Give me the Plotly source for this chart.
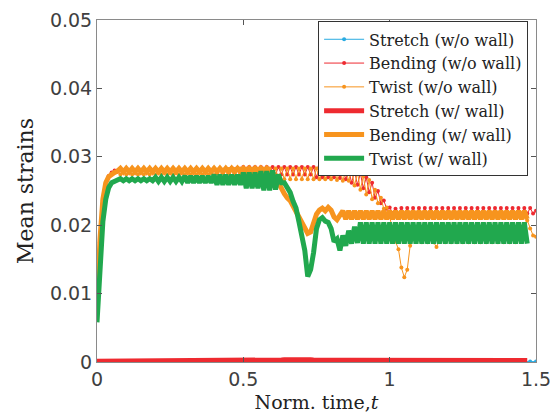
import plotly.graph_objects as go

# ---------------- data ----------------
T = [0.00, 0.01, 0.02, 0.03, 0.04, 0.05, 0.06, 0.07, 0.08, 0.09,
     0.10, 0.11, 0.12, 0.13, 0.14, 0.15, 0.16, 0.17, 0.18, 0.19,
     0.20, 0.21, 0.22, 0.23, 0.24, 0.25, 0.26, 0.27, 0.28, 0.29,
     0.30, 0.31, 0.32, 0.33, 0.34, 0.35, 0.36, 0.37, 0.38, 0.39,
     0.40, 0.41, 0.42, 0.43, 0.44, 0.45, 0.46, 0.47, 0.48, 0.49,
     0.50, 0.51, 0.52, 0.53, 0.54, 0.55, 0.56, 0.57, 0.58, 0.59,
     0.60, 0.61, 0.62, 0.63, 0.64, 0.65, 0.66, 0.67, 0.68, 0.69,
     0.70, 0.71, 0.72, 0.73, 0.74, 0.75, 0.76, 0.77, 0.78, 0.79,
     0.80, 0.81, 0.82, 0.83, 0.84, 0.85, 0.86, 0.87, 0.88, 0.89,
     0.90, 0.91, 0.92, 0.93, 0.94, 0.95, 0.96, 0.97, 0.98, 0.99,
     1.00, 1.01, 1.02, 1.03, 1.04, 1.05, 1.06, 1.07, 1.08, 1.09,
     1.10, 1.11, 1.12, 1.13, 1.14, 1.15, 1.16, 1.17, 1.18, 1.19,
     1.20, 1.21, 1.22, 1.23, 1.24, 1.25, 1.26, 1.27, 1.28, 1.29,
     1.30, 1.31, 1.32, 1.33, 1.34, 1.35, 1.36, 1.37, 1.38, 1.39,
     1.40, 1.41, 1.42, 1.43, 1.44, 1.45, 1.46, 1.47, 1.48, 1.49,
     1.50]

# w/ wall runs stop a little earlier
T_WALL = T[:148]

# Stretch (w/o wall) - sparse samples, essentially zero
T_STRETCH_NO = [0.00, 0.10, 0.20, 0.30, 0.40, 0.50, 0.60, 0.70, 0.80, 0.90,
                1.00, 1.10, 1.20, 1.30, 1.40, 1.45, 1.48, 1.50]
STRETCH_NO = [0.00005, 0.00005, 0.00005, 0.00005, 0.00005, 0.00006, 0.00008, 0.00010,
              0.00008, 0.00007, 0.00007, 0.00007, 0.00007, 0.00007, 0.00006, 0.00006,
              0.00006, 0.00006]

BEND_NO = [0.0065, 0.0170, 0.0232, 0.0260, 0.0272, 0.0277, 0.0280, 0.0278, 0.0282, 0.0277,
           0.0282, 0.0277, 0.0282, 0.0277, 0.0282, 0.0277, 0.0282, 0.0277, 0.0282, 0.0277,
           0.0282, 0.0277, 0.0282, 0.0277, 0.0282, 0.0277, 0.0282, 0.0277, 0.0282, 0.0277,
           0.0282, 0.0277, 0.0282, 0.0277, 0.0282, 0.0277, 0.0282, 0.0277, 0.0282, 0.0277,
           0.0283, 0.0276, 0.0283, 0.0276, 0.0283, 0.0276, 0.0284, 0.0275, 0.0284, 0.0275,
           0.0285, 0.0274, 0.0285, 0.0274, 0.0285, 0.0274, 0.0285, 0.0274, 0.0285, 0.0274,
           0.0285, 0.0274, 0.0285, 0.0274, 0.0285, 0.0274, 0.0285, 0.0274, 0.0285, 0.0274,
           0.0285, 0.0274, 0.0285, 0.0274, 0.0285, 0.0270, 0.0285, 0.0270, 0.0285, 0.0270,
           0.0285, 0.0270, 0.0284, 0.0269, 0.0283, 0.0267, 0.0281, 0.0262, 0.0279, 0.0259,
           0.0276, 0.0254, 0.0270, 0.0248, 0.0262, 0.0240, 0.0250, 0.0232, 0.0236, 0.0224,
           0.0226, 0.0218, 0.0224, 0.0217, 0.0225, 0.0217, 0.0225, 0.0217, 0.0225, 0.0217,
           0.0225, 0.0217, 0.0225, 0.0217, 0.0225, 0.0217, 0.0225, 0.0217, 0.0225, 0.0217,
           0.0225, 0.0217, 0.0225, 0.0217, 0.0225, 0.0217, 0.0225, 0.0217, 0.0225, 0.0217,
           0.0225, 0.0217, 0.0225, 0.0217, 0.0225, 0.0217, 0.0225, 0.0217, 0.0225, 0.0217,
           0.0225, 0.0217, 0.0225, 0.0217, 0.0225, 0.0217, 0.0225, 0.0217, 0.0225, 0.0217,
           0.0221]

TWIST_NO = [0.0072, 0.0175, 0.0236, 0.0261, 0.0271, 0.0275, 0.0277, 0.0280, 0.0274, 0.0280,
            0.0274, 0.0280, 0.0274, 0.0280, 0.0274, 0.0280, 0.0274, 0.0280, 0.0274, 0.0280,
            0.0274, 0.0280, 0.0274, 0.0280, 0.0274, 0.0280, 0.0274, 0.0280, 0.0274, 0.0280,
            0.0274, 0.0280, 0.0274, 0.0280, 0.0274, 0.0280, 0.0274, 0.0280, 0.0274, 0.0280,
            0.0273, 0.0281, 0.0272, 0.0281, 0.0271, 0.0282, 0.0270, 0.0282, 0.0269, 0.0283,
            0.0267, 0.0283, 0.0267, 0.0283, 0.0267, 0.0283, 0.0267, 0.0283, 0.0267, 0.0283,
            0.0267, 0.0283, 0.0267, 0.0283, 0.0267, 0.0283, 0.0267, 0.0283, 0.0267, 0.0283,
            0.0267, 0.0283, 0.0267, 0.0283, 0.0267, 0.0283, 0.0267, 0.0283, 0.0267, 0.0283,
            0.0267, 0.0283, 0.0266, 0.0282, 0.0265, 0.0281, 0.0265, 0.0280, 0.0258, 0.0277,
            0.0252, 0.0272, 0.0245, 0.0266, 0.0238, 0.0252, 0.0232, 0.0240, 0.0224, 0.0226,
            0.0212, 0.0195, 0.0176, 0.0165, 0.0138, 0.0124, 0.0135, 0.0170, 0.0182, 0.0176,
            0.0186, 0.0175, 0.0186, 0.0175, 0.0186, 0.0175, 0.0168, 0.0178, 0.0186, 0.0175,
            0.0186, 0.0175, 0.0186, 0.0175, 0.0186, 0.0175, 0.0186, 0.0175, 0.0186, 0.0175,
            0.0186, 0.0175, 0.0186, 0.0175, 0.0186, 0.0175, 0.0186, 0.0175, 0.0186, 0.0175,
            0.0186, 0.0175, 0.0186, 0.0175, 0.0186, 0.0176, 0.0188, 0.0207, 0.0195, 0.0185,
            0.0183]

STRETCH_W = [0.00012, 0.00012, 0.00012, 0.00012, 0.00012, 0.00012, 0.00012, 0.00012, 0.00012, 0.00012,
             0.00012, 0.00012, 0.00012, 0.00012, 0.00012, 0.00012, 0.00012, 0.00012, 0.00012, 0.00012,
             0.00012, 0.00012, 0.00012, 0.00012, 0.00012, 0.00012, 0.00012, 0.00012, 0.00012, 0.00012,
             0.00013, 0.00013, 0.00013, 0.00013, 0.00013, 0.00013, 0.00013, 0.00013, 0.00013, 0.00013,
             0.00014, 0.00014, 0.00014, 0.00014, 0.00014, 0.00014, 0.00014, 0.00014, 0.00014, 0.00014,
             0.00015, 0.00015, 0.00015, 0.00016, 0.00016, 0.00017, 0.00018, 0.00019, 0.00020, 0.00022,
             0.00024, 0.00026, 0.00028, 0.00030, 0.00032, 0.00034, 0.00036, 0.00038, 0.00040, 0.00040,
             0.00039, 0.00037, 0.00035, 0.00033, 0.00031, 0.00029, 0.00028, 0.00027, 0.00026, 0.00026,
             0.00025, 0.00025, 0.00025, 0.00025, 0.00025, 0.00025, 0.00025, 0.00025, 0.00025, 0.00025,
             0.00025, 0.00025, 0.00025, 0.00025, 0.00025, 0.00025, 0.00025, 0.00025, 0.00025, 0.00025,
             0.00024, 0.00024, 0.00024, 0.00024, 0.00024, 0.00024, 0.00024, 0.00024, 0.00024, 0.00024,
             0.00024, 0.00024, 0.00024, 0.00024, 0.00024, 0.00024, 0.00024, 0.00024, 0.00024, 0.00024,
             0.00023, 0.00023, 0.00023, 0.00023, 0.00023, 0.00023, 0.00023, 0.00023, 0.00023, 0.00023,
             0.00023, 0.00023, 0.00023, 0.00023, 0.00023, 0.00023, 0.00023, 0.00023, 0.00023, 0.00023,
             0.00023, 0.00023, 0.00023, 0.00023, 0.00023, 0.00023, 0.00023, 0.00023]

BEND_W = [0.0072, 0.0178, 0.0238, 0.0262, 0.0271, 0.0275, 0.0277, 0.0279, 0.0283, 0.0278,
          0.0283, 0.0278, 0.0283, 0.0278, 0.0283, 0.0278, 0.0283, 0.0278, 0.0283, 0.0278,
          0.0283, 0.0278, 0.0283, 0.0278, 0.0283, 0.0278, 0.0283, 0.0278, 0.0283, 0.0278,
          0.0283, 0.0278, 0.0283, 0.0278, 0.0283, 0.0278, 0.0283, 0.0278, 0.0283, 0.0278,
          0.0283, 0.0278, 0.0283, 0.0278, 0.0283, 0.0278, 0.0283, 0.0278, 0.0283, 0.0278,
          0.0283, 0.0278, 0.0283, 0.0278, 0.0283, 0.0278, 0.0283, 0.0278, 0.0283, 0.0278,
          0.0276, 0.0272, 0.0262, 0.0252, 0.0246, 0.0240, 0.0236, 0.0228, 0.0220, 0.0212,
          0.0204, 0.0195, 0.0188, 0.0190, 0.0204, 0.0216, 0.0222, 0.0225, 0.0221, 0.0226,
          0.0222, 0.0212, 0.0208, 0.0216, 0.0221, 0.0209, 0.0221, 0.0209, 0.0221, 0.0209,
          0.0221, 0.0209, 0.0221, 0.0209, 0.0221, 0.0209, 0.0221, 0.0209, 0.0221, 0.0209,
          0.0221, 0.0209, 0.0221, 0.0209, 0.0221, 0.0209, 0.0221, 0.0209, 0.0221, 0.0209,
          0.0221, 0.0209, 0.0221, 0.0209, 0.0221, 0.0209, 0.0221, 0.0209, 0.0221, 0.0209,
          0.0221, 0.0209, 0.0221, 0.0209, 0.0221, 0.0209, 0.0221, 0.0209, 0.0221, 0.0209,
          0.0221, 0.0209, 0.0221, 0.0209, 0.0221, 0.0209, 0.0221, 0.0209, 0.0221, 0.0209,
          0.0221, 0.0209, 0.0221, 0.0209, 0.0221, 0.0209, 0.0221, 0.0209]

TWIST_W = [0.0058, 0.0150, 0.0205, 0.0238, 0.0255, 0.0262, 0.0265, 0.0266, 0.0268, 0.0265,
           0.0268, 0.0265, 0.0268, 0.0265, 0.0268, 0.0265, 0.0268, 0.0265, 0.0268, 0.0265,
           0.0270, 0.0264, 0.0270, 0.0264, 0.0270, 0.0264, 0.0270, 0.0264, 0.0270, 0.0264,
           0.0272, 0.0262, 0.0272, 0.0262, 0.0272, 0.0262, 0.0272, 0.0262, 0.0272, 0.0262,
           0.0274, 0.0259, 0.0274, 0.0259, 0.0274, 0.0259, 0.0274, 0.0259, 0.0274, 0.0259,
           0.0277, 0.0254, 0.0277, 0.0254, 0.0277, 0.0254, 0.0279, 0.0251, 0.0279, 0.0251,
           0.0280, 0.0252, 0.0274, 0.0262, 0.0262, 0.0255, 0.0248, 0.0235, 0.0225, 0.0205,
           0.0180, 0.0163, 0.0125, 0.0135, 0.0160, 0.0195, 0.0208, 0.0211, 0.0206, 0.0204,
           0.0195, 0.0176, 0.0180, 0.0163, 0.0185, 0.0170, 0.0192, 0.0173, 0.0198, 0.0174,
           0.0204, 0.0173, 0.0204, 0.0173, 0.0204, 0.0173, 0.0204, 0.0173, 0.0204, 0.0173,
           0.0204, 0.0173, 0.0204, 0.0173, 0.0204, 0.0173, 0.0204, 0.0173, 0.0204, 0.0173,
           0.0204, 0.0173, 0.0204, 0.0173, 0.0204, 0.0173, 0.0204, 0.0173, 0.0204, 0.0173,
           0.0204, 0.0173, 0.0204, 0.0173, 0.0204, 0.0173, 0.0204, 0.0173, 0.0204, 0.0173,
           0.0204, 0.0173, 0.0204, 0.0173, 0.0204, 0.0173, 0.0204, 0.0173, 0.0204, 0.0173,
           0.0204, 0.0173, 0.0204, 0.0173, 0.0204, 0.0173, 0.0204, 0.0173]

X_TICKS = [0, 0.5, 1, 1.5]
X_TICKTEXT = ["0", "0.5", "1", "1.5"]
Y_TICKS = [0, 0.01, 0.02, 0.03, 0.04, 0.05]
Y_TICKTEXT = ["0", "0.01", "0.02", "0.03", "0.04", "0.05"]

# ---------------- styling ----------------
BLUE = "#29ABE2"
RED = "#EE2A30"
ORANGE = "#F7941E"
GREEN = "#21A84E"
SERIF = "DejaVu Serif"
SANS = "DejaVu Sans"

fig = go.Figure()

fig.add_trace(go.Scatter(x=T_STRETCH_NO, y=STRETCH_NO, mode="lines+markers",
                         name="Stretch (w/o wall)", line=dict(color=BLUE, width=1),
                         marker=dict(color=BLUE, size=4)))
fig.add_trace(go.Scatter(x=T, y=BEND_NO, mode="lines+markers",
                         name="Bending (w/o wall)", line=dict(color=RED, width=1),
                         marker=dict(color=RED, size=4)))
fig.add_trace(go.Scatter(x=T, y=TWIST_NO, mode="lines+markers",
                         name="Twist (w/o wall)", line=dict(color=ORANGE, width=1),
                         marker=dict(color=ORANGE, size=4)))
fig.add_trace(go.Scatter(x=T_WALL, y=STRETCH_W, mode="lines",
                         name="Stretch (w/ wall)", line=dict(color=RED, width=5)))
fig.add_trace(go.Scatter(x=T_WALL, y=BEND_W, mode="lines",
                         name="Bending (w/ wall)", line=dict(color=ORANGE, width=5)))
fig.add_trace(go.Scatter(x=T_WALL, y=TWIST_W, mode="lines",
                         name="Twist (w/ wall)", line=dict(color=GREEN, width=5)))

axis_common = dict(
    showline=True, linecolor="#8a8a8a", linewidth=1, mirror="ticks",
    ticks="inside", ticklen=5, tickcolor="#555555", tickwidth=1,
    showgrid=False, zeroline=False, ticklabeloverflow="allow", automargin=False,
    tickfont=dict(family=SANS, size=19, color="#404040"),
)

fig.update_layout(
    width=550, height=419,
    margin=dict(l=97, r=14, t=20, b=57, autoexpand=False),
    paper_bgcolor="white", plot_bgcolor="white",
    xaxis=dict(range=[0, 1.5], tickvals=X_TICKS, ticktext=X_TICKTEXT,
               title=dict(text="Norm. time,<i>t</i>", font=dict(family=SERIF, size=19, color="#222222"),
                          standoff=6),
               **axis_common),
    yaxis=dict(range=[0, 0.05], tickvals=Y_TICKS, ticktext=Y_TICKTEXT,
               title=dict(text="Mean strains", font=dict(family=SERIF, size=22, color="#222222"),
                          standoff=10),
               **axis_common),
    legend=dict(x=0.982, y=0.996, xanchor="right", yanchor="top",
                bgcolor="white", bordercolor="#333333", borderwidth=1,
                font=dict(family=SERIF, size=16, color="#222222"),
                tracegroupgap=0, itemwidth=40),
    showlegend=True,
)

fig.write_html("out.html")
